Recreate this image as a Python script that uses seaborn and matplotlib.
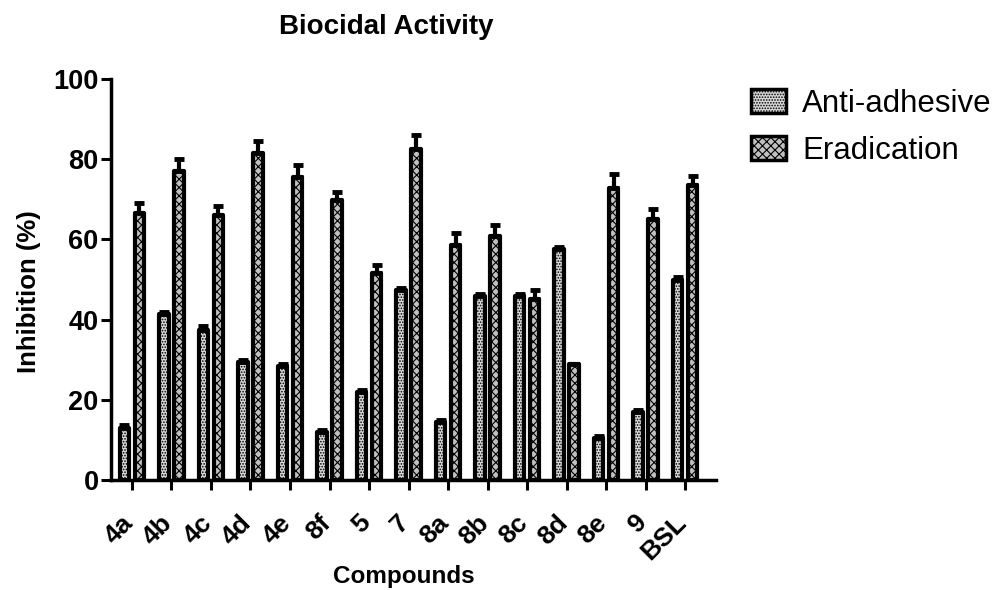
import matplotlib
matplotlib.use("Agg")
from matplotlib import pyplot as plt
from matplotlib.patches import Patch
import matplotlib.transforms as mtransforms
import pandas as pd
import seaborn as sns

compuestos = ["4a", "4b", "4c", "4d", "4e", "8f", "5", "7", "8a", "8b", "8c", "8d", "8e", "9", "BSL"]
anti_adhesive = [13, 41.5, 37.5, 29.5, 28.5, 12, 22, 47.5, 14.5, 46, 46, 57.5, 10.5, 17, 50]
anti_err = [0.6, 0.5, 0.8, 0.5, 0.5, 0.5, 0.5, 0.5, 0.5, 0.5, 0.5, 0.5, 0.5, 0.5, 0.6]
eradication = [66.5, 77, 66, 81.5, 75.5, 69.8, 51.5, 82.5, 58.5, 60.8, 45.2, 29, 72.8, 65.2, 73.5]
erad_err = [2.5, 3, 2.3, 3, 3, 2, 2, 3.5, 3, 2.7, 2.2, 0, 3.5, 2.5, 2.4]

series = ["Anti-adhesive", "Eradication"]

df = pd.DataFrame({
    "Compuesto": compuestos * 2,
    "Serie": [series[0]] * len(compuestos) + [series[1]] * len(compuestos),
    "Inhibicion": anti_adhesive + eradication,
})

sns.set_style("ticks")
plt.rcParams["font.family"] = ["Liberation Sans", "DejaVu Sans"]
plt.rcParams["hatch.linewidth"] = 0.8
for k in ["text.color", "axes.labelcolor", "xtick.color", "ytick.color", "axes.edgecolor"]:
    plt.rcParams[k] = "black"

fig = plt.figure(figsize=(9.96, 5.90), dpi=100)
ax = fig.add_axes([111 / 996, 1 - 480 / 590, 605 / 996, 401 / 590])

sns.barplot(data=df, x="Compuesto", y="Inhibicion", hue="Serie", order=compuestos,
            hue_order=series, errorbar=None, width=0.76, gap=0.36,
            palette=["#d8d8d8", "#c0c0c0"], edgecolor="black", linewidth=3,
            legend=False, ax=ax)

hatches = ["......", "xxxx"]
errores = [anti_err, erad_err]
n = len(compuestos)
for i, bar in enumerate(ax.patches[:2 * n]):
    bar.set_hatch(hatches[i // n])
    bar.set_joinstyle("round")

# barras de error solo hacia arriba
for s in range(2):
    barras = ax.patches[s * n:(s + 1) * n]
    xs = [b.get_x() + b.get_width() / 2 for b in barras]
    ys = [b.get_height() for b in barras]
    ax.errorbar(xs, ys, yerr=[[0] * n, errores[s]], fmt="none", ecolor="black",
                elinewidth=3, capsize=3.5, capthick=3.5, zorder=1)

ax.set_ylim(0, 100)
ax.set_xlim(-0.53, 14.78)
ax.set_yticks([0, 20, 40, 60, 80, 100])
ax.set_yticklabels(["0", "20", "40", "60", "80", "100"], fontsize=19.5, fontweight="bold")
ax.set_xticks(range(n))
ax.set_xticklabels(compuestos, fontsize=19, fontweight="bold", rotation=45,
                   ha="right", va="top")
ax.tick_params(axis="both", width=2.2, length=7, direction="out")
ax.tick_params(axis="x", pad=15)
ax.tick_params(axis="y", pad=2)

# mover etiquetas un poco a la derecha
desplaza = mtransforms.ScaledTranslation(4 / 72, 0, fig.dpi_scale_trans)
for etiqueta in ax.get_xticklabels():
    etiqueta.set_transform(etiqueta.get_transform() + desplaza)

for lado in ["left", "bottom"]:
    ax.spines[lado].set_linewidth(2.5)
sns.despine(ax=ax)

ax.set_ylabel("Inhibition (%)", fontsize=18.5, fontweight="bold")
ax.yaxis.set_label_coords(-0.1157, 0.471)
ax.set_xlabel("Compounds", fontsize=17.5, fontweight="bold")
ax.xaxis.set_label_coords(0.484, -0.212)
fig.text(386 / 996, 1 - 27 / 590, "Biocidal Activity", fontsize=20, fontweight="bold",
         ha="center", va="center")

handles = [Patch(facecolor="#d8d8d8", edgecolor="black", linewidth=2.5, hatch=hatches[0]),
           Patch(facecolor="#c0c0c0", edgecolor="black", linewidth=2.5, hatch=hatches[1])]
fig.legend(handles, series, loc="upper left", bbox_to_anchor=(751 / 996, 1 - 89 / 590),
           frameon=False, fontsize=22.5, handlelength=1.12, handleheight=0.8,
           handletextpad=0.52, labelspacing=0.55, borderpad=0, borderaxespad=0)

plt.savefig("out.png", dpi=100)
